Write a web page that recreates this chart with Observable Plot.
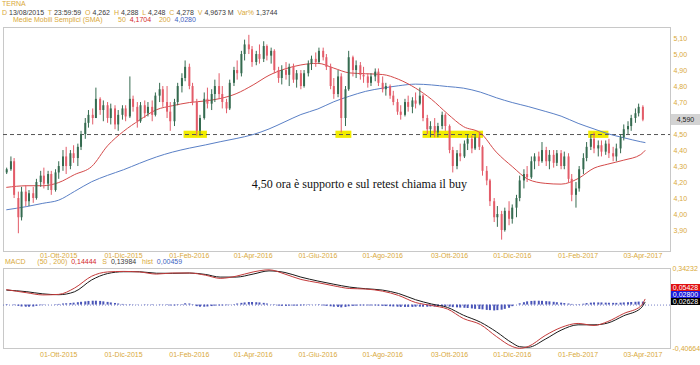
<!DOCTYPE html>
<html><head><meta charset="utf-8">
<script src="https://cdn.jsdelivr.net/npm/d3@7"></script>
<script src="https://cdn.jsdelivr.net/npm/@observablehq/plot@0.6"></script>
<style>
html,body{margin:0;padding:0;background:#fff;}
#wrap{position:relative;width:700px;height:365px;overflow:hidden;font-family:"Liberation Sans",Arial,sans-serif;}
.row{position:absolute;font-size:7px;line-height:8px;white-space:pre;}
.g{color:#d9a93a}.k{color:#3a3a3a}.r{color:#d42a2a}.b{color:#3f5fc0}
.box{position:absolute;left:671px;width:29px;font-size:7px;line-height:8px;text-align:center;}
.plot{position:absolute;left:0;}
</style></head><body><div id="wrap"></div>
<script>
// ---------- texts ----------
const title = "TERNA";
const infoLabels = ["D","T","O","H","L","C","V","Var%"];
const infoValues = ["13/08/2015","23:59:59","4,262","4,288","4,248","4,278","4,9673 M","1,3744"];
const smaLabel = "Medie Mobili Semplici (SMA)";
const smaPeriods = ["50","200"];
const smaLast = ["4,1704","4,0280"];
const macdLabel = "MACD";
const macdParams = "(50 , 200)";
const macdInfoLabels = ["", "S", "hist"];
const macdInfo = ["0,14444","0,13984","0,00459"];
const annotation = "4,50 ora è supporto e sul retest chiama il buy";
const supportLevel = 4.5;
const hlStart = ["2016-01-27","2016-06-18","2016-09-08","2017-02-11"];
const hlEnd   = ["2016-02-18","2016-07-03","2016-11-04","2017-03-02"];
const tickDates = ["2015-10-01","2015-12-01","2016-02-01","2016-04-01","2016-06-01","2016-08-01","2016-10-03","2016-12-01","2017-02-01","2017-04-03"];
const mesi = ["Gen","Feb","Mar","Apr","Mag","Giu","Lug","Ago","Set","Ott","Nov","Dic"];
const yTicks = [3.9,4.0,4.1,4.2,4.3,4.4,4.5,4.7,4.8,4.9,5.0,5.1];
const macdRange = [-0.40664, 0.34232];
const lastPrice = 4.59;
const macdLastBoxes = [0.05428, 0.02800, 0.02628];

// ---------- candles (two per week: Mon and Thu) ----------
const open = [4.26,4.28,4.33,4.10,3.98,4.14,4.08,4.13,4.10,4.20,
4.24,4.19,4.25,4.15,4.26,4.30,4.36,4.30,4.38,4.35,
4.42,4.50,4.57,4.62,4.60,4.72,4.65,4.68,4.60,4.66,
4.56,4.62,4.66,4.61,4.72,4.67,4.58,4.68,4.63,4.67,
4.62,4.74,4.78,4.70,4.64,4.58,4.70,4.80,4.85,4.92,
4.80,4.70,4.52,4.60,4.72,4.69,4.75,4.80,4.75,4.70,
4.66,4.82,4.90,4.88,5.00,5.06,5.03,4.95,5.00,4.97,
5.05,4.99,5.02,4.90,4.85,4.90,4.87,4.92,4.84,4.88,
4.80,4.88,4.94,4.97,4.95,5.02,4.98,4.92,4.80,4.75,
4.86,4.60,4.78,4.98,4.90,4.93,4.87,4.86,4.82,4.86,
4.89,4.82,4.78,4.80,4.74,4.70,4.64,4.62,4.70,4.67,
4.71,4.69,4.74,4.60,4.53,4.55,4.51,4.55,4.62,4.55,
4.40,4.30,4.38,4.36,4.44,4.47,4.41,4.48,4.42,4.27,
4.21,4.08,3.98,4.00,3.90,4.02,3.97,4.04,4.10,4.21,
4.25,4.23,4.33,4.36,4.33,4.40,4.33,4.37,4.32,4.38,
4.30,4.36,4.22,4.12,4.16,4.28,4.35,4.42,4.47,4.41,
4.43,4.39,4.44,4.38,4.36,4.41,4.48,4.53,4.55,4.60,
4.63,4.67];
const high = [4.29,4.36,4.35,4.14,4.17,4.18,4.15,4.17,4.22,4.27,
4.29,4.27,4.27,4.28,4.33,4.40,4.42,4.40,4.43,4.44,
4.52,4.60,4.65,4.66,4.79,4.73,4.71,4.70,4.69,4.68,
4.65,4.68,4.68,4.86,4.74,4.70,4.70,4.71,4.70,4.71,
4.76,4.82,4.80,4.80,4.70,4.72,4.82,4.88,4.96,4.94,
4.82,4.72,4.62,4.76,4.79,4.78,4.84,4.88,4.80,4.72,
4.84,4.92,4.96,5.02,5.09,5.12,5.05,5.02,5.06,5.08,
5.06,5.04,5.03,4.92,4.93,4.95,4.94,4.94,4.90,4.90,
4.90,4.96,4.99,5.01,5.04,5.04,5.00,4.94,4.85,4.90,
4.88,4.80,5.02,4.99,4.96,4.95,4.92,4.88,4.88,4.91,
4.91,4.86,4.82,4.81,4.77,4.72,4.68,4.72,4.74,4.73,
4.76,4.79,4.75,4.62,4.58,4.60,4.57,4.64,4.63,4.56,
4.42,4.40,4.44,4.46,4.50,4.49,4.50,4.51,4.43,4.30,
4.22,4.10,4.05,4.02,4.04,4.08,4.06,4.12,4.24,4.28,
4.30,4.36,4.38,4.39,4.45,4.42,4.40,4.40,4.40,4.40,
4.39,4.38,4.25,4.20,4.30,4.38,4.45,4.50,4.51,4.46,
4.46,4.46,4.47,4.42,4.44,4.50,4.56,4.58,4.62,4.66,
4.69,4.68];
const low = [4.25,4.27,4.10,3.88,3.96,4.05,4.05,4.07,4.09,4.17,
4.16,4.15,4.12,4.14,4.22,4.27,4.25,4.28,4.32,4.30,
4.40,4.47,4.54,4.56,4.60,4.62,4.58,4.57,4.56,4.53,
4.52,4.59,4.58,4.60,4.64,4.54,4.57,4.60,4.61,4.58,
4.61,4.70,4.67,4.60,4.52,4.55,4.68,4.76,4.83,4.78,
4.68,4.49,4.49,4.59,4.66,4.65,4.70,4.72,4.66,4.63,
4.65,4.80,4.84,4.86,4.96,5.00,4.92,4.93,4.94,4.95,
4.96,4.94,4.88,4.82,4.81,4.84,4.80,4.82,4.79,4.78,
4.79,4.86,4.90,4.92,4.94,4.96,4.90,4.78,4.72,4.73,
4.51,4.55,4.77,4.86,4.85,4.84,4.82,4.79,4.80,4.83,
4.80,4.76,4.74,4.72,4.68,4.62,4.59,4.61,4.64,4.63,
4.66,4.68,4.58,4.50,4.48,4.48,4.48,4.53,4.52,4.38,
4.26,4.28,4.33,4.35,4.40,4.38,4.40,4.40,4.24,4.18,
4.05,3.95,3.92,3.84,3.89,3.93,3.94,3.98,4.08,4.16,
4.20,4.22,4.28,4.30,4.32,4.30,4.28,4.29,4.30,4.28,
4.28,4.20,4.08,4.04,4.14,4.25,4.33,4.40,4.38,4.36,
4.36,4.37,4.35,4.33,4.33,4.38,4.46,4.50,4.52,4.57,
4.61,4.58];
const close = [4.28,4.33,4.12,3.98,4.14,4.08,4.13,4.10,4.20,4.24,
4.19,4.25,4.15,4.26,4.30,4.36,4.30,4.38,4.35,4.42,
4.50,4.57,4.62,4.60,4.72,4.65,4.68,4.60,4.66,4.56,
4.62,4.66,4.61,4.72,4.67,4.58,4.68,4.63,4.67,4.62,
4.74,4.78,4.70,4.64,4.58,4.70,4.80,4.85,4.92,4.80,
4.70,4.52,4.60,4.72,4.69,4.75,4.80,4.75,4.70,4.66,
4.82,4.90,4.88,5.00,5.06,5.03,4.95,5.00,4.97,5.05,
4.99,5.02,4.90,4.85,4.90,4.87,4.92,4.84,4.88,4.80,
4.88,4.94,4.97,4.95,5.02,4.98,4.92,4.80,4.75,4.86,
4.60,4.78,4.98,4.90,4.93,4.87,4.86,4.82,4.86,4.89,
4.82,4.78,4.80,4.74,4.70,4.64,4.62,4.70,4.67,4.71,
4.69,4.74,4.60,4.53,4.55,4.51,4.55,4.62,4.55,4.40,
4.30,4.38,4.36,4.44,4.47,4.41,4.48,4.42,4.27,4.21,
4.08,3.98,4.00,3.90,4.02,3.97,4.04,4.10,4.21,4.25,
4.23,4.33,4.36,4.33,4.40,4.33,4.37,4.32,4.38,4.30,
4.36,4.22,4.12,4.16,4.28,4.35,4.42,4.47,4.41,4.43,
4.39,4.44,4.38,4.36,4.41,4.48,4.53,4.55,4.60,4.63,
4.67,4.59];
const macdHist = [0.005,0,-0.005,-0.012,-0.018,-0.02,-0.02,-0.018,-0.012,-0.006,
-0.003,0.001,0,0.004,0.006,0.01,0.012,0.015,0.018,0.022,
0.026,0.03,0.034,0.036,0.036,0.034,0.03,0.025,0.02,0.015,
0.01,0.006,0.003,0.004,0.002,-0.002,0,-0.003,-0.002,-0.004,
0,0.003,0.002,-0.004,-0.008,-0.008,-0.004,0.004,0.012,0.01,
-0.004,-0.015,-0.02,-0.02,-0.018,-0.014,-0.01,-0.008,-0.008,-0.006,
-0.002,0.004,0.01,0.016,0.02,0.024,0.024,0.022,0.02,0.016,
0.01,0.002,-0.004,-0.01,-0.012,-0.012,-0.01,-0.01,-0.01,-0.008,
-0.006,-0.004,-0.002,-0.002,-0.004,-0.008,-0.012,-0.016,-0.02,-0.022,
-0.026,-0.022,-0.016,-0.012,-0.01,-0.008,-0.008,-0.008,-0.008,-0.008,
-0.01,-0.012,-0.014,-0.016,-0.018,-0.02,-0.022,-0.022,-0.022,-0.022,
-0.02,-0.02,-0.02,-0.02,-0.018,-0.018,-0.016,-0.016,-0.018,-0.02,
-0.024,-0.026,-0.028,-0.03,-0.032,-0.036,-0.04,-0.042,-0.045,-0.05,
-0.052,-0.055,-0.052,-0.048,-0.04,-0.03,-0.015,0,0.012,0.022,
0.03,0.034,0.036,0.036,0.035,0.032,0.03,0.026,0.022,0.018,
0.014,0.01,0.006,0.003,0.004,0.008,0.014,0.018,0.02,0.02,
0.02,0.018,0.017,0.016,0.016,0.018,0.02,0.022,0.024,0.026,
0.028,0.028];

// ---------- moving averages ----------
const maDates = ["2015-08-13","2015-09-01","2015-09-16","2015-10-01","2015-10-16","2015-11-01","2015-11-16","2015-12-01","2015-12-16","2016-01-01","2016-01-16","2016-02-01","2016-02-16","2016-03-01","2016-03-16","2016-04-01","2016-04-16","2016-05-01","2016-05-16","2016-06-01","2016-06-16","2016-07-01","2016-07-16","2016-08-01","2016-08-16","2016-09-01","2016-09-16","2016-10-01","2016-10-16","2016-11-01","2016-11-16","2016-12-01","2016-12-16","2017-01-01","2017-01-16","2017-02-01","2017-02-16","2017-03-01","2017-03-16","2017-04-01","2017-04-05"];
const sma50 = [4.17,4.18,4.18,4.20,4.25,4.30,4.43,4.52,4.59,4.655,4.68,4.70,4.71,4.725,4.755,4.81,4.87,4.91,4.935,4.945,4.915,4.885,4.88,4.875,4.845,4.79,4.72,4.63,4.55,4.51,4.39,4.30,4.22,4.195,4.19,4.225,4.29,4.315,4.34,4.375,4.40];
const sma200 = [4.03,4.05,4.07,4.09,4.145,4.205,4.245,4.28,4.32,4.36,4.39,4.415,4.435,4.455,4.475,4.50,4.535,4.58,4.625,4.66,4.705,4.74,4.77,4.79,4.805,4.815,4.81,4.80,4.79,4.765,4.73,4.70,4.675,4.645,4.615,4.57,4.535,4.505,4.48,4.455,4.45];

// ---------- MACD lines ----------
const macdDates = ["2015-08-13","2015-09-01","2015-09-16","2015-10-01","2015-10-16","2015-11-01","2015-11-16","2015-12-01","2015-12-16","2016-01-01","2016-01-16","2016-02-01","2016-02-16","2016-03-01","2016-03-16","2016-04-01","2016-04-16","2016-05-01","2016-05-16","2016-06-01","2016-06-16","2016-07-01","2016-07-16","2016-08-01","2016-08-16","2016-09-01","2016-09-16","2016-10-01","2016-10-16","2016-11-01","2016-11-16","2016-12-01","2016-12-08","2016-12-16","2017-01-01","2017-01-16","2017-02-01","2017-02-16","2017-03-01","2017-03-16","2017-04-01","2017-04-05"];
const macdLine = [0.144,0.115,0.095,0.10,0.16,0.27,0.31,0.315,0.31,0.29,0.30,0.30,0.28,0.25,0.27,0.31,0.33,0.29,0.24,0.21,0.18,0.155,0.15,0.13,0.09,0.024,-0.004,-0.037,-0.126,-0.182,-0.294,-0.388,-0.405,-0.388,-0.285,-0.21,-0.172,-0.191,-0.154,-0.079,-0.01,0.054];
const macdSignal = [0.140,0.125,0.105,0.097,0.125,0.235,0.295,0.312,0.312,0.298,0.297,0.30,0.287,0.262,0.262,0.29,0.32,0.305,0.262,0.225,0.195,0.168,0.153,0.14,0.108,0.05,0.01,-0.022,-0.095,-0.16,-0.25,-0.355,-0.39,-0.395,-0.32,-0.235,-0.185,-0.185,-0.168,-0.10,-0.03,0.026];

// ---------- build ----------
const P = s => new Date(s + "T00:00:00Z");
const candleDates = [P("2015-08-13")];
for (const m of d3.utcMonday.range(P("2015-08-17"), P("2017-03-28"))) candleDates.push(m, d3.utcDay.offset(m, 3));
candleDates.push(P("2017-04-03"));
const n = Math.min(candleDates.length, open.length, high.length, low.length, close.length);
const candles = d3.range(n).map(i => ({date: candleDates[i], o: open[i], h: high[i], l: low[i], c: close[i], hist: macdHist[i] ?? 0, zero: 0}));
const up = candles.filter(d => d.c >= d.o), down = candles.filter(d => d.c < d.o);
const ma = maDates.map((d, i) => ({date: P(d), s50: sma50[i], s200: sma200[i]}));
const macd = macdDates.map((d, i) => ({date: P(d), m: macdLine[i], s: macdSignal[i]}));
const highlights = hlStart.map((s, i) => ({a: P(s), b: P(hlEnd[i]), lo: supportLevel - 0.024, hi: supportLevel + 0.021}));
const note = [{date: P("2016-07-10"), y: 4.19, t: annotation}];

const xDomain = [P("2015-08-10"), P("2017-04-29")];
const fmtDate = d => `${String(d.getUTCDate()).padStart(2, "0")}-${mesi[d.getUTCMonth()]}-${d.getUTCFullYear()}`;
const comma = (spec) => v => d3.format(spec)(v).replace(".", ",").replace("−", "-");
const GOLD = "#d9a93a", RED = "#e35c69", GREEN = "#356b50";
const axisStyle = {fontFamily: "Liberation Sans, Arial, sans-serif", fontSize: "7px", color: GOLD, background: "transparent", overflow: "visible"};

const main = Plot.plot({
  width: 700, height: 262,
  marginTop: 27, marginBottom: 11, marginLeft: 3, marginRight: 30,
  x: {type: "utc", domain: xDomain},
  y: {domain: [3.769, 5.169]},
  style: axisStyle,
  marks: [
    Plot.frame({stroke: "#c8c8c8"}),
    Plot.rect(highlights, {x1: "a", x2: "b", y1: "lo", y2: "hi", fill: "#f2ec00"}),
    Plot.ruleY([supportLevel], {stroke: "#555", strokeDasharray: "4,3"}),
    Plot.line(ma, {x: "date", y: "s200", stroke: "#5a80c6", strokeWidth: 1, curve: "monotone-x"}),
    Plot.line(ma, {x: "date", y: "s50", stroke: "#d44a4a", strokeWidth: 1, curve: "monotone-x"}),
    Plot.ruleX(up, {x: "date", y1: "l", y2: "h", stroke: GREEN, strokeWidth: 1}),
    Plot.ruleX(down, {x: "date", y1: "l", y2: "h", stroke: RED, strokeWidth: 1}),
    Plot.ruleX(up, {x: "date", y1: "o", y2: "c", stroke: GREEN, strokeWidth: 2}),
    Plot.ruleX(down, {x: "date", y1: "o", y2: "c", stroke: RED, strokeWidth: 2}),
    Plot.text(note, {x: "date", y: "y", text: "t", fontFamily: "Liberation Serif, Times New Roman, serif", fontSize: 12, fill: "#111", textAnchor: "middle"}),
    Plot.axisX({ticks: tickDates.map(P), tickFormat: fmtDate, tickSize: 0, tickPadding: 2, label: null}),
    Plot.axisY({anchor: "right", ticks: yTicks, tickFormat: comma(".2f"), tickSize: 0, tickPadding: 3, label: null})
  ]
});

const sub = Plot.plot({
  width: 700, height: 107,
  marginTop: 10, marginBottom: 17, marginLeft: 3, marginRight: 30,
  x: {type: "utc", domain: xDomain},
  y: {domain: macdRange},
  style: axisStyle,
  marks: [
    Plot.frame({stroke: "#c8c8c8"}),
    Plot.ruleY([0], {stroke: "#5560b8", strokeDasharray: "1,2", strokeWidth: 0.8}),
    Plot.ruleX(candles, {x: "date", y1: "zero", y2: "hist", stroke: "#4a55b8", strokeWidth: 2}),
    Plot.line(macd, {x: "date", y: "s", stroke: "#1a1a1a", strokeWidth: 1, curve: "monotone-x"}),
    Plot.line(macd, {x: "date", y: "m", stroke: "#c43a3a", strokeWidth: 1, curve: "monotone-x"}),
    Plot.axisX({ticks: tickDates.map(P), tickFormat: fmtDate, tickSize: 0, tickPadding: 4, label: null}),
    Plot.axisY({anchor: "right", ticks: macdRange, tickFormat: comma(".5f"), tickSize: 0, tickPadding: 2, label: null})
  ]
});

const wrap = document.getElementById("wrap");
const place = (el, top) => { el.classList.add("plot"); el.style.top = top + "px"; wrap.appendChild(el); };
place(main, 0);
const SUB_TOP = 258;
place(sub, SUB_TOP);

const row = (html, left, top) => { const d = document.createElement("div"); d.className = "row"; d.style.left = left + "px"; d.style.top = top + "px"; d.innerHTML = html; wrap.appendChild(d); };
row(`<span class="g">${title}</span>`, 2, 0);
row(infoLabels.map((l, i) => `<span class="g">${l}</span> <span class="k">${infoValues[i]}</span>`).join("  "), 2, 9);
row(`<span class="g">${smaLabel}</span>        <span class="g">${smaPeriods[0]}</span>  <span class="r">${smaLast[0]}</span>    <span class="g">${smaPeriods[1]}</span>  <span class="b">${smaLast[1]}</span>`, 13, 16);
row(`<span class="g">${macdLabel}</span>      <span class="g">${macdParams}</span>  <span class="r">${macdInfo[0]}</span>   <span class="g">${macdInfoLabels[1]}</span>  <span class="k">${macdInfo[1]}</span>   <span class="g">${macdInfoLabels[2]}</span>  <span class="b">${macdInfo[2]}</span>`, 5, 258);

// last price box
const yMain = main.scale("y");
const pb = document.createElement("div");
pb.className = "box";
pb.style.top = (yMain.apply(lastPrice) - 5.5) + "px";
pb.style.height = "11px"; pb.style.lineHeight = "11px";
pb.style.background = "#d3d3d3"; pb.style.color = "#222";
pb.textContent = comma(".3f")(lastPrice);
wrap.appendChild(pb);

// MACD last-value boxes
const ySub = sub.scale("y");
const mid = SUB_TOP + ySub.apply(macdLastBoxes[0]);
const boxColors = ["#e01010", "#1a1ad8", "#000"];
macdLastBoxes.forEach((v, i) => {
  const b = document.createElement("div");
  b.className = "box";
  b.style.top = (mid - 15 + i * 7) + "px";
  b.style.height = "7px"; b.style.lineHeight = "7px";
  b.style.background = boxColors[i]; b.style.color = "#fff";
  b.textContent = comma(".5f")(v);
  wrap.appendChild(b);
});
</script></body></html>
